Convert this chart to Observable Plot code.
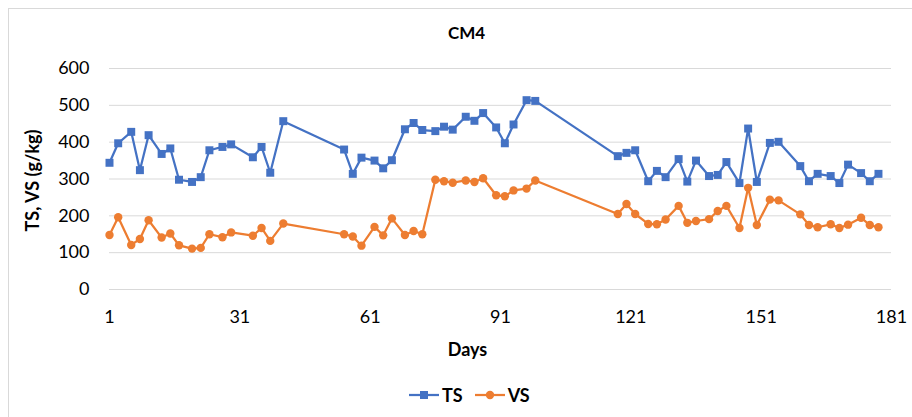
<!DOCTYPE html>
<html>
<head>
<meta charset="utf-8">
<script src="https://cdn.jsdelivr.net/npm/d3@7"></script>
<script src="https://cdn.jsdelivr.net/npm/@observablehq/plot@0.6"></script>
<style>
  html, body { margin: 0; padding: 0; background: #fff; }
  #wrap { position: relative; width: 912px; height: 417px; overflow: hidden; font-family: Lato, "Open Sans", sans-serif; }
  #frame { position: absolute; left: 8px; top: 8px; width: 1000px; height: 1000px; border-left: 1px solid #d9d9d9; border-top: 1px solid #d9d9d9; box-sizing: border-box; }
  #chart { position: absolute; left: 0; top: 0; }
  #legend { position: absolute; left: 409px; top: 375px; height: 40px; display: flex; align-items: center; font-weight: bold; font-size: 18px; color: #000; }
  #legend .item { display: flex; align-items: center; margin-right: 12px; }
  #legend svg { margin-right: 3px; }
</style>
</head>
<body>
<div id="wrap">
  <div id="frame"></div>
  <div id="chart"></div>
  <div id="legend"></div>
</div>
<script>
const title = "CM4";
const xLabel = "Days";
const yLabel = "TS, VS (g/kg)";
const xTicks = [1, 31, 61, 91, 121, 151, 181];
const yTicks = [0, 100, 200, 300, 400, 500, 600];
const days = [1,3,6,8,10,13,15,17,20,22,24,27,29,34,36,38,41,55,57,59,62,64,66,69,71,73,76,78,80,83,85,87,90,92,94,97,99,118,120,122,125,127,129,132,134,136,139,141,143,146,148,150,153,155,160,162,164,167,169,171,174,176,178];
const tsValues = [344,397,428,324,419,368,383,298,292,305,378,387,394,359,387,317,457,380,314,358,350,329,351,435,452,433,430,442,434,469,458,479,440,397,448,514,512,362,371,378,294,322,305,354,293,350,308,311,346,289,437,292,398,401,335,294,314,308,289,339,316,294,314];
const vsValues = [148,196,121,137,188,141,152,120,111,113,150,142,155,146,167,132,179,150,144,119,170,147,193,148,159,150,298,294,290,296,292,302,256,253,269,274,296,205,232,205,178,177,190,227,181,186,191,213,227,167,276,175,244,242,204,175,169,177,167,176,195,175,169];
const seriesNames = ["TS", "VS"];
const seriesColors = ["#4472C4", "#ED7D31"];

const ts = days.map((d, i) => ({day: d, value: tsValues[i]}));
const vs = days.map((d, i) => ({day: d, value: vsValues[i]}));

const chart = Plot.plot({
  width: 912,
  height: 375,
  marginLeft: 109,
  marginRight: 21,
  marginTop: 68,
  marginBottom: 86,
  style: { fontFamily: "Lato, 'Open Sans', sans-serif", fontSize: "18px", color: "#000", background: "transparent" },
  x: { domain: [1, 181] },
  y: { domain: [0, 600] },
  marks: [
    Plot.gridY(yTicks, { stroke: "#d9d9d9", strokeOpacity: 1, strokeWidth: 1 }),
    Plot.axisY({ ticks: yTicks, tickSize: 0, tickPadding: 20, label: null, fontSize: 18 }),
    Plot.axisX({ ticks: xTicks, tickSize: 0, tickPadding: 21, label: null, fontSize: 18 }),
    Plot.line(vs, { x: "day", y: "value", stroke: seriesColors[1], strokeWidth: 2.25 }),
    Plot.dot(vs, { x: "day", y: "value", fill: seriesColors[1], r: 4.2, symbol: "circle" }),
    Plot.line(ts, { x: "day", y: "value", stroke: seriesColors[0], strokeWidth: 2.25 }),
    Plot.dot(ts, { x: "day", y: "value", fill: seriesColors[0], r: 4.5, symbol: "square" }),
    Plot.text([title], { frameAnchor: "top", dx: -34, dy: -35, lineAnchor: "middle", fontWeight: "bold", fontSize: 17, fill: "#000" }),
    Plot.text([xLabel], { frameAnchor: "bottom", dx: -33, dy: 61, lineAnchor: "middle", fontWeight: "bold", fontSize: 18, fill: "#000" }),
    Plot.text([yLabel], { frameAnchor: "left", dx: -76, dy: 1.5, rotate: -90, textAnchor: "middle", lineAnchor: "middle", fontWeight: "bold", fontSize: 18, fill: "#000" })
  ]
});
document.getElementById("chart").appendChild(chart);

const legend = document.getElementById("legend");
seriesNames.forEach((name, i) => {
  const item = document.createElement("div");
  item.className = "item";
  const ns = "http://www.w3.org/2000/svg";
  const s = document.createElementNS(ns, "svg");
  s.setAttribute("width", "30"); s.setAttribute("height", "12");
  const ln = document.createElementNS(ns, "line");
  ln.setAttribute("x1", 0); ln.setAttribute("x2", 30); ln.setAttribute("y1", 6); ln.setAttribute("y2", 6);
  ln.setAttribute("stroke", seriesColors[i]); ln.setAttribute("stroke-width", 2.25);
  s.appendChild(ln);
  if (i === 0) {
    const r = document.createElementNS(ns, "rect");
    r.setAttribute("x", 11); r.setAttribute("y", 2); r.setAttribute("width", 8); r.setAttribute("height", 8);
    r.setAttribute("fill", seriesColors[i]);
    s.appendChild(r);
  } else {
    const c = document.createElementNS(ns, "circle");
    c.setAttribute("cx", 15); c.setAttribute("cy", 6); c.setAttribute("r", 4.2);
    c.setAttribute("fill", seriesColors[i]);
    s.appendChild(c);
  }
  item.appendChild(s);
  const t = document.createElement("span");
  t.textContent = name;
  item.appendChild(t);
  legend.appendChild(item);
});
</script>
</body>
</html>
